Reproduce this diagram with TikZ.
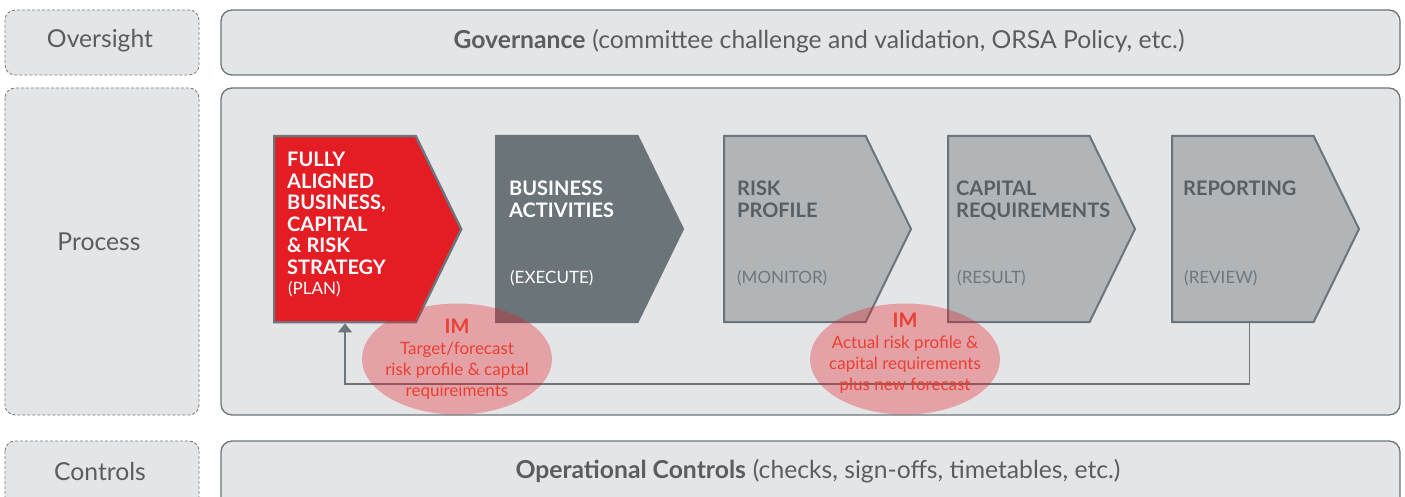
\documentclass[tikz,border=0pt]{standalone}
\usepackage{fontspec}
\setmainfont{Lato}
\usetikzlibrary{shapes.symbols,shapes.geometric,arrows.meta,positioning}
\definecolor{imred}{HTML}{E41C24}
\definecolor{slate}{HTML}{6A7479}
\definecolor{stone}{HTML}{B1B5B8}
\definecolor{edge}{HTML}{6B757B}
\definecolor{paper}{HTML}{E4E5E7}
\definecolor{ink}{HTML}{5A5C5E}
\definecolor{stageink}{HTML}{575F64}
\definecolor{imink}{HTML}{EA3F32}

\begin{document}
\begin{tikzpicture}[x=1pt, y=-1pt,
  lane/.style={draw=ink!80, dash pattern=on 3pt off 2pt, fill=paper, rounded corners=10pt, line width=0.9pt},
  panel/.style={draw=edge, fill=paper, rounded corners=11pt, line width=1.3pt},
  lanetext/.style={text=ink, inner sep=0pt, font=\fontsize{24.7}{28}\selectfont},
  chev/.style={signal, signal to=east, signal pointer angle=128, minimum width=187pt, minimum height=186pt, inner sep=0pt, anchor=north west, line width=2pt, draw=edge, fill=stone},
  head/.style={anchor=north west, align=left, inner sep=0pt, text=stageink, font=\bfseries\fontsize{20}{21.5}\selectfont},
  tag/.style={anchor=north west, inner sep=0pt, text=stageink!85, font=\fontsize{17}{20}\selectfont},
  feedback/.style={draw=edge, line width=1.3pt},
  im/.style={ellipse, minimum width=190pt, minimum height=111pt, inner sep=0pt, fill=imred, fill opacity=0.33},
  imtext/.style={inner sep=0pt, text=imink, align=center, font=\fontsize{17}{21}\selectfont}
]
\useasboundingbox (0,0) rectangle (1405,497);
\clip (0,0) rectangle (1405,497);

\draw[lane] (5,10) rectangle (199,75);
\draw[lane] (5,88) rectangle (199,415);
\draw[lane] (5,441) rectangle (199,520);
\draw[panel] (221,10) rectangle (1400,75);
\draw[panel] (221,88) rectangle (1400,415);
\draw[panel] (221,441) rectangle (1400,520);

\node[lanetext] (oversight) at (100,41) {Oversight};
\node[lanetext] (process) at (99,242) {Process};
\node[lanetext] (controls) at (100,471) {Controls};
\node[lanetext] (gov) at (819,41) {\textbf{Governance}\hspace{7pt}(committee challenge and validation, ORSA Policy, etc.)};
\node[lanetext] (ops) at (818,471) {\textbf{Operational Controls}\hspace{7pt}(checks, sign-offs, timetables, etc.)};

\node[chev, fill=imred, line width=2.4pt] (plan) at (273,135) {};
\node[chev, fill=slate, draw=slate] (exec) at (495,135) {};
\node[chev] (risk) at (723,135) {};
\node[chev] (cap) at (947,135) {};
\node[chev] (rep) at (1171,135) {};

\node[head, text=white] (planhead) at (287,152) {FULLY\\ALIGNED\\BUSINESS,\\CAPITAL\\\&~RISK\\STRATEGY};
\node[tag, text=white] (plantag) at (288,281) {(PLAN)};
\node[head, text=white] (exechead) at (509,181) {BUSINESS\\ACTIVITIES};
\node[tag, text=white] (exectag) at (510,270) {(EXECUTE)};
\node[head] (riskhead) at (737,181) {RISK\\PROFILE};
\node[tag] (risktag) at (737,270) {(MONITOR)};
\node[head] (caphead) at (956,181) {CAPITAL\\REQUIREMENTS};
\node[tag] (captag) at (957,270) {(RESULT)};
\node[head] (rephead) at (1183,181) {REPORTING};
\node[tag] (reptag) at (1184,270) {(REVIEW)};

\draw[feedback, -{Triangle[width=14pt,length=9pt]}] ([xshift=7pt]rep.south) -- ++(0,61) -| (plan.south);

\node[im] (implan) at (457,359) {};
\node[im] (imact) at (905,359) {};
\node[imtext] (implantext) at (implan.center) {{\bfseries\fontsize{20}{21}\selectfont IM}\\Target/forecast\\risk profile \& captal\\requireiments};
\node[imtext] (imacttext) at ([yshift=6pt]imact.center) {{\bfseries\fontsize{20}{21}\selectfont IM}\\Actual risk profile \&\\capital requirements\\plus new forecast};
\end{tikzpicture}
\end{document}
